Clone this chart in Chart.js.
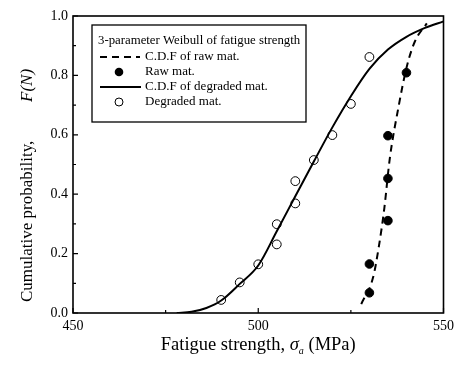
<!DOCTYPE html>
<html><head><meta charset="utf-8">
<script src="https://cdn.jsdelivr.net/npm/chart.js@4.4.1/dist/chart.umd.min.js"></script>
<style>html,body{margin:0;padding:0;background:#fff}</style>
</head><body>
<canvas id="c" width="459" height="367"></canvas>
<script>
// ---- data ----
const degradedX = [490, 495, 500, 505, 505, 510, 510, 515, 520, 525, 530];
const degradedY = [0.044, 0.103, 0.164, 0.231, 0.299, 0.369, 0.444, 0.515, 0.599, 0.704, 0.862];
const rawX = [530, 530, 535, 535, 535, 540];
const rawY = [0.068, 0.165, 0.311, 0.453, 0.597, 0.809];
const degradedCdfX = [478, 482, 486, 490, 495, 500, 505, 510, 515, 520, 525, 530, 535, 540, 545, 550];
const degradedCdfY = [0, 0.004, 0.017, 0.042, 0.098, 0.16, 0.275, 0.393, 0.51, 0.625, 0.73, 0.822, 0.887, 0.93, 0.96, 0.982];
const rawCdfX = [527.8, 531, 532.5, 534, 535.5, 537.8, 540.1, 542.3, 545.5];
const rawCdfY = [0.03, 0.12, 0.22, 0.35, 0.52, 0.69, 0.83, 0.915, 0.975];
const xTickValues = [450, 500, 550];
const xMinorTicks = [475, 525];
const yTickValues = [0, 0.2, 0.4, 0.6, 0.8, 1.0];
const yMinorTicks = [0.1, 0.3, 0.5, 0.7, 0.9];
const legendTitle = '3-parameter Weibull of fatigue strength';
const seriesNames = ['C.D.F of raw mat.', 'Raw mat.', 'C.D.F of degraded mat.', 'Degraded mat.'];

const pts = (xs, ys) => xs.map((x, i) => ({x, y: ys[i]}));
const SERIF = '"Liberation Serif", "DejaVu Serif", serif';

const datasets = [
  {label: seriesNames[0], data: pts(rawCdfX, rawCdfY), showLine: true, borderColor: '#000', borderWidth: 2,
   borderDash: [7, 5], pointRadius: 0, cubicInterpolationMode: 'monotone', fill: false},
  {label: seriesNames[1], data: pts(rawX, rawY), showLine: false, pointRadius: 4.3,
   pointBackgroundColor: '#000', pointBorderColor: '#000', pointBorderWidth: 1},
  {label: seriesNames[2], data: pts(degradedCdfX, degradedCdfY), showLine: true, borderColor: '#000', borderWidth: 2,
   pointRadius: 0, cubicInterpolationMode: 'monotone', fill: false},
  {label: seriesNames[3], data: pts(degradedX, degradedY), showLine: false, pointRadius: 4.4,
   pointBackgroundColor: '#fff', pointBorderColor: '#000', pointBorderWidth: 1}
];

const decor = {
  id: 'decor',
  afterDatasetsDraw(chart) {
    const {ctx, chartArea: a, scales: {x, y}} = chart;
    ctx.save();
    ctx.strokeStyle = '#000';
    // frame
    ctx.lineWidth = 1.6;
    ctx.strokeRect(a.left, a.top, a.right - a.left, a.bottom - a.top);
    // inward ticks
    ctx.lineWidth = 1.2;
    ctx.beginPath();
    xTickValues.forEach(v => { const p = x.getPixelForValue(v); ctx.moveTo(p, a.bottom); ctx.lineTo(p, a.bottom - 5); });
    xMinorTicks.forEach(v => { const p = x.getPixelForValue(v); ctx.moveTo(p, a.bottom); ctx.lineTo(p, a.bottom - 3); });
    yTickValues.forEach(v => { const p = y.getPixelForValue(v); ctx.moveTo(a.left, p); ctx.lineTo(a.left + 5, p); });
    yMinorTicks.forEach(v => { const p = y.getPixelForValue(v); ctx.moveTo(a.left, p); ctx.lineTo(a.left + 3, p); });
    ctx.stroke();

    // legend box
    const bx = 92, by = 25, bw = 214, bh = 97;
    ctx.fillStyle = '#fff';
    ctx.fillRect(bx, by, bw, bh);
    ctx.lineWidth = 1.3;
    ctx.strokeRect(bx, by, bw, bh);
    ctx.fillStyle = '#000';
    ctx.font = '12.8px ' + SERIF;
    ctx.textBaseline = 'middle';
    ctx.textAlign = 'left';
    ctx.fillText(legendTitle, 98, 41);
    const rows = [57, 72, 87, 102];
    const tx = 145;
    // dashed line
    ctx.lineWidth = 2;
    ctx.setLineDash([7, 5]);
    ctx.beginPath(); ctx.moveTo(100, rows[0]); ctx.lineTo(140, rows[0]); ctx.stroke();
    ctx.setLineDash([]);
    // filled dot
    ctx.beginPath(); ctx.arc(119, rows[1], 4.3, 0, Math.PI * 2); ctx.fill();
    // solid line
    ctx.beginPath(); ctx.moveTo(100, rows[2]); ctx.lineTo(141, rows[2]); ctx.stroke();
    // open circle
    ctx.lineWidth = 1;
    ctx.beginPath(); ctx.arc(119, rows[3], 4, 0, Math.PI * 2); ctx.stroke();
    ctx.font = '13px ' + SERIF;
    seriesNames.forEach((n, i) => ctx.fillText(n, tx, rows[i]));

    // x axis title
    const cx = (a.left + a.right) / 2;
    const yb = 350;
    ctx.textBaseline = 'alphabetic';
    const parts = [
      {t: 'Fatigue strength, ', f: '18.5px ' + SERIF, dy: 0},
      {t: 'σ', f: 'italic 18.5px ' + SERIF, dy: 0},
      {t: 'a', f: 'italic 10px ' + SERIF, dy: 4},
      {t: ' (MPa)', f: '18.5px ' + SERIF, dy: 0}
    ];
    let total = 0;
    parts.forEach(p => { ctx.font = p.f; p.w = ctx.measureText(p.t).width; total += p.w; });
    let px = cx - total / 2;
    parts.forEach(p => { ctx.font = p.f; ctx.fillText(p.t, px, yb + p.dy); px += p.w; });

    // y axis title (rotated)
    ctx.translate(32, 0);
    ctx.rotate(-Math.PI / 2);
    ctx.font = '17px ' + SERIF;
    ctx.textAlign = 'left';
    ctx.fillText('Cumulative probability,', -302, 0);
    ctx.font = 'italic 17px ' + SERIF;
    ctx.fillText('F(N)', -102, 0);
    ctx.restore();
  }
};

new Chart(document.getElementById('c'), {
  type: 'scatter',
  data: {datasets},
  options: {
    responsive: false,
    animation: false,
    layout: {padding: {left: 0, top: 16, right: 12, bottom: 0}},
    plugins: {legend: {display: false}, tooltip: {enabled: false}},
    scales: {
      x: {
        type: 'linear', min: 450, max: 550,
        afterFit: s => { s.height = 54; },
        afterBuildTicks: s => { s.ticks = xTickValues.map(v => ({value: v})); },
        grid: {display: false, drawTicks: false},
        border: {display: false},
        ticks: {padding: 5, color: '#000', font: {family: SERIF, size: 14}, maxRotation: 0,
                callback: v => String(v)}
      },
      y: {
        type: 'linear', min: 0, max: 1,
        afterFit: s => { s.width = 73; },
        afterBuildTicks: s => { s.ticks = yTickValues.map(v => ({value: v})); },
        grid: {display: false, drawTicks: false},
        border: {display: false},
        ticks: {padding: 5, color: '#000', font: {family: SERIF, size: 14},
                callback: v => Number(v).toFixed(1)}
      }
    }
  },
  plugins: [decor]
});
</script>
</body></html>
